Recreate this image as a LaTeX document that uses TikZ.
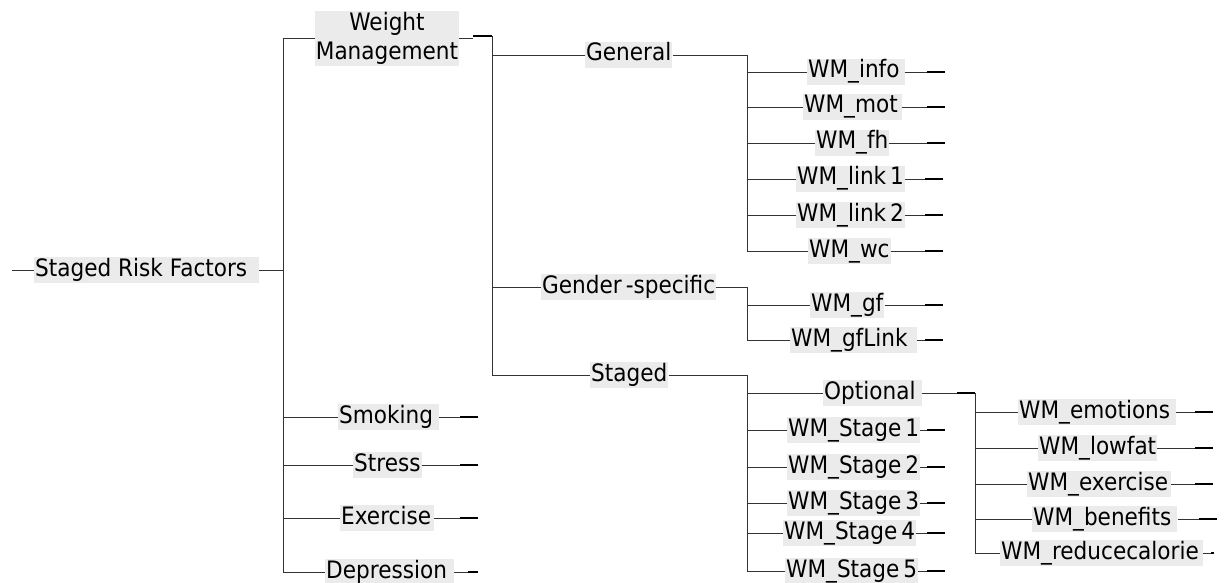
\documentclass[tikz,border=0pt]{standalone}
\usepackage{fontspec}
\setmainfont{DejaVu Sans}[FakeStretch=0.9]
\usetikzlibrary{calc}
\definecolor{lblbg}{RGB}{235,235,235}
\newcommand\tpad[1]{\hspace*{#1pt}}
\begin{document}
\begin{tikzpicture}[x=1pt,y=-1pt,
  lbl/.style={fill=lblbg, inner xsep=1pt, inner ysep=0pt, text height=19pt, text depth=7pt, anchor=west, font=\fontsize{24}{28}\selectfont},
  wmbox/.style={fill=lblbg, inner xsep=1pt, inner ysep=1.5pt, align=center, font=\fontsize{24}{29}\selectfont},
  conn/.style={draw=black!80, line width=0.8pt},
  stub/.style={draw=black, line width=1.5pt}]
\useasboundingbox (0,0) rectangle (1224,583);

% vertical bar positions and stub ends
\coordinate (v0) at (283,270);
\coordinate (v1) at (492,36);
\coordinate (v2) at (747,55);
\coordinate (v3) at (747,287);
\coordinate (v4) at (747,375);
\coordinate (v5) at (975,395);
\coordinate (rootin) at (12,270);
\coordinate (eB) at (478,0);
\coordinate (eA) at (945,0);
\coordinate (eA2) at (943,0);
\coordinate (eC) at (1213,0);
\coordinate (eC2) at (1217,0);
\coordinate (eD) at (1214,0);

% nodes
\node[lbl] (root) at (34,270) {Staged Risk Factors\tpad{11}};
\node[wmbox] (wm) at (387,38.5) {Weight\\Management};
\node[lbl] (smoking) at (338,417) {Smoking\tpad{5}};
\node[lbl] (stress) at (353,465) {Stress};
\node[lbl] (exercise) at (340,518) {Exercise\tpad{2}};
\node[lbl] (depression) at (325,572) {Depression\tpad{6}};

\node[lbl] (general) at (585,55) {General};
\node[lbl] (gender) at (541,287) {Gender\,-specific};
\node[lbl] (staged) at (590,375) {Staged};

\node[lbl] (info) at (807,72) {WM\_info\tpad{4}};
\node[lbl] (mot) at (803,107) {WM\_mot\tpad{3}};
\node[lbl] (fh) at (815,143) {WM\_fh};
\node[lbl] (link1) at (796,179) {WM\_link\,1};
\node[lbl] (link2) at (796,215) {WM\_link\,2};
\node[lbl] (wc) at (808,251) {WM\_wc};

\node[lbl] (gf) at (810,305) {WM\_gf};
\node[lbl] (gflink) at (790,340) {WM\_gfLink\tpad{8}};

\node[lbl] (optional) at (823,393) {Optional\tpad{5}};
\node[lbl] (st1) at (787,430) {WM\_Stage\,1};
\node[lbl] (st2) at (787,467) {WM\_Stage\,2};
\node[lbl] (st3) at (787,503) {WM\_Stage\,3};
\node[lbl] (st4) at (783,533) {WM\_Stage\,4};
\node[lbl] (st5) at (785,571) {WM\_Stage\,5};

\node[lbl] (emotions) at (1018,412) {WM\_emotions\tpad{5}};
\node[lbl] (lowfat) at (1038,448) {WM\_lowfat};
\node[lbl] (wmexercise) at (1027,484) {WM\_exercise\tpad{2}};
\node[lbl] (benefits) at (1032,519) {WM\_benefits\tpad{5}};
\node[lbl] (reduce) at (1000,553) {WM\_reducecalorie\tpad{3}};

% root
\draw[conn] (rootin) -- (root.west);
\draw[conn] (root.east) -- (v0);
\draw[conn] (wm.west -| v0) -- (depression.west -| v0);
\foreach \n in {wm,smoking,stress,exercise,depression}
  \draw[conn] (\n.west -| v0) -- (\n.west);

% weight management
\draw[conn] (wm.east) -- ++(14,0);
\draw[stub] ($(v1)+(-19,0)$) -- (v1);
\draw[conn] (v1) -- (staged.west -| v1);
\foreach \n in {general,gender,staged}
  \draw[conn] (\n.west -| v1) -- (\n.west);

% second level right sides
\draw[conn] (general.east) -- (general.east -| v2);
\draw[conn] (gender.east) -- (gender.east -| v3);
\draw[conn] (staged.east) -- (staged.east -| v4);
\draw[conn] (v2) -- (wc.west -| v2);
\draw[conn] (v3) -- (gflink.west -| v3);
\draw[conn] (v4) -- (st5.west -| v4);
\foreach \n in {info,mot,fh,link1,link2,wc}
  \draw[conn] (\n.west -| v2) -- (\n.west);
\foreach \n in {gf,gflink}
  \draw[conn] (\n.west -| v3) -- (\n.west);
\foreach \n in {optional,st1,st2,st3,st4,st5}
  \draw[conn] (\n.west -| v4) -- (\n.west);

% optional branch
\draw[conn] (optional.east) -- ($(optional.east -| v5)+(-18,0)$);
\draw[stub] ($(optional.east -| v5)+(-18,0)$) -- (optional.east -| v5);
\draw[conn] (optional.east -| v5) -- (reduce.west -| v5);
\foreach \n in {emotions,lowfat,wmexercise,benefits,reduce}
  \draw[conn] (\n.west -| v5) -- (\n.west);

% leaf stubs
\foreach \n/\e/\t in {smoking/eB/18,stress/eB/18,exercise/eB/18,depression/eB/10,
  info/eA/18,mot/eA/18,fh/eA/18,link1/eA2/18,link2/eA2/18,wc/eA2/18,
  gf/eA2/18,gflink/eA2/18,st1/eA/18,st2/eA/18,st3/eA/18,st4/eA/18,st5/eA/18,
  emotions/eC/18,lowfat/eC/18,wmexercise/eC/18,benefits/eC2/18,reduce/eD/3}{
  \draw[conn] (\n.east) -- ($(\n.east -| \e)+(-\t,0)$);
  \draw[stub] ($(\n.east -| \e)+(-\t,0)$) -- (\n.east -| \e);
}
\end{tikzpicture}
\end{document}
